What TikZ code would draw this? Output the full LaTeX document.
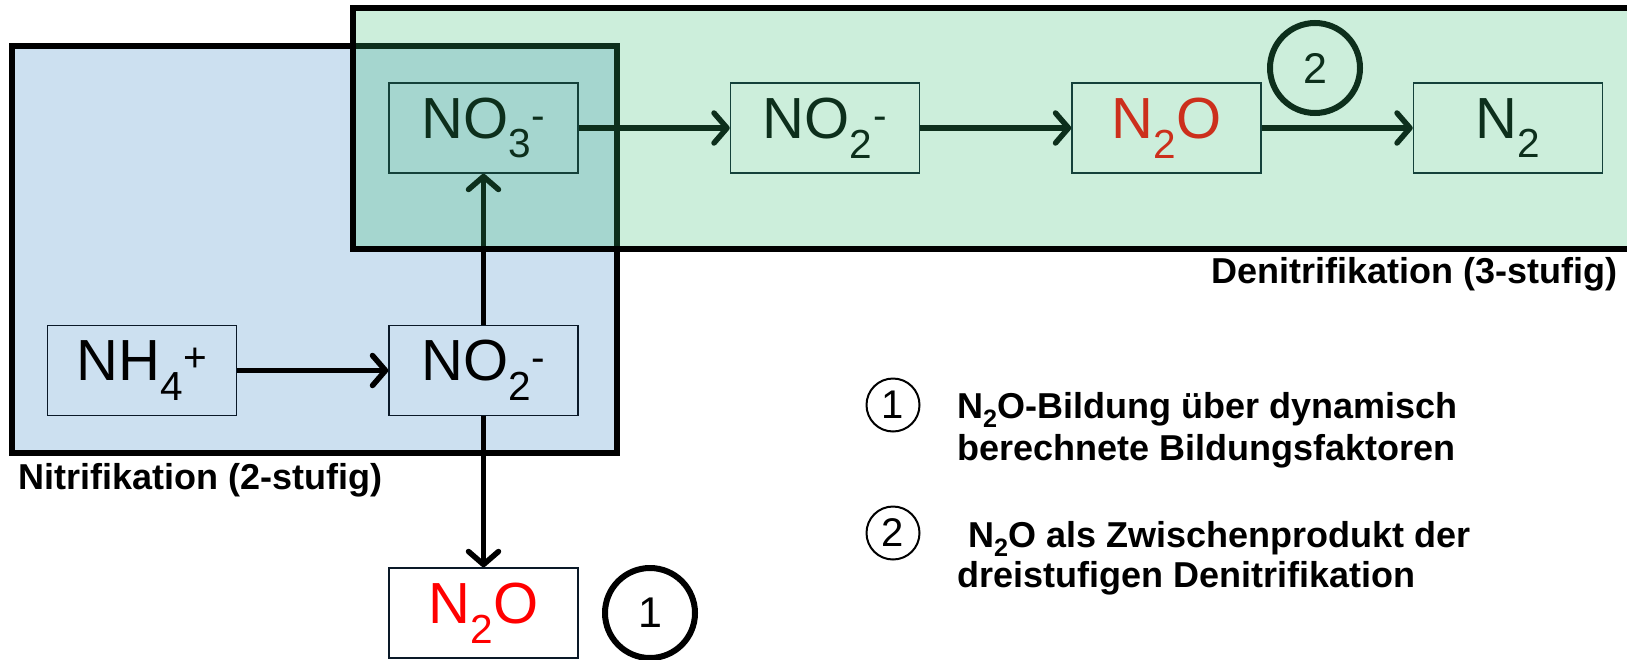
\documentclass[tikz,border=0pt]{standalone}
\usepackage{fontspec}
\setmainfont{Liberation Sans}
\usetikzlibrary{arrows.meta,positioning}
\definecolor{NitriClr}{RGB}{204,224,240}
\definecolor{DenitriClr}{RGB}{52,188,112}
\definecolor{GasClr}{RGB}{255,0,0}
\definecolor{EdgeClr}{RGB}{10,25,40}

\begin{document}
\begin{tikzpicture}[x=1pt,y=-1pt,
  spec/.style={draw=EdgeClr,line width=1.5pt,minimum width=189pt,minimum height=90pt,inner sep=0pt,font=\fontsize{58}{62}\selectfont},
  flow/.style={line width=5.5pt,-{Straight Barb[length=13pt,width=30pt,line cap=round,line join=round]}},
  stage/.style={line width=6pt,draw=black},
  tag/.style={inner sep=0pt,font=\fontsize{36}{42}\selectfont\bfseries},
  num/.style={circle,draw,line width=6pt,minimum size=90pt,inner sep=0pt,font=\fontsize{43}{50}\selectfont},
  numsmall/.style={circle,draw,line width=2pt,minimum size=53pt,inner sep=0pt,font=\fontsize{40}{45}\selectfont},
  node distance=151pt]

\useasboundingbox (0,0) rectangle (1627,659);

% Nitrifikation (blue stage)
\fill[NitriClr] (12,46) rectangle (617,453);
\draw[stage] (12,46) rectangle (617,453);

\node[spec] (no3) at (483.5,128) {NO\textsubscript{3}\textsuperscript{-}};
\node[spec,right=of no3] (no2a) {NO\textsubscript{2}\textsuperscript{-}};
\node[spec,right=of no2a,text=GasClr] (n2oa) {N\textsubscript{2}O};
\node[spec,right=of n2oa] (n2) {N\textsubscript{2}};
\node[spec,below=of no3] (no2b) {NO\textsubscript{2}\textsuperscript{-}};
\node[spec,left=of no2b] (nh4) {NH\textsubscript{4}\textsuperscript{+}};
\node[spec,below=of no2b,text=GasClr] (n2ob) {N\textsubscript{2}O};

\draw[flow] (nh4) -- (no2b);
\draw[flow] (no2b) -- (no3);
\draw[flow] (no2b) -- (n2ob);
\draw[flow] (no3) -- (no2a);
\draw[flow] (no2a) -- (n2oa);
\draw[flow] (n2oa) -- (n2);

\node[num] (c1) at (650,613) {1};
\node[num] (c2) at (1315,68) {2};

% Denitrifikation lies over the rest, see-through
\fill[DenitriClr,fill opacity=0.25] (353,8) rectangle (1660,249);
\draw[stage] (353,8) rectangle (1660,249);

\node[tag,anchor=base west] (nitri) at (18,489) {Nitrifikation (2-stufig)};
\node[tag,anchor=base east] (denitri) at (1618,283) {Denitrifikation (3-stufig)};

% legend
\node[numsmall] (k1) at (893,405) {1};
\node[numsmall] (k2) at (893,533) {2};
\node[tag,anchor=base west] (t1a) at (957,418) {N\textsubscript{2}O-Bildung über dynamisch};
\node[tag,anchor=base west] (t1b) at (957,460) {berechnete Bildungsfaktoren};
\node[tag,anchor=base west] (t2a) at (968,547) {N\textsubscript{2}O als Zwischenprodukt der};
\node[tag,anchor=base west] (t2b) at (957,587) {dreistufigen Denitrifikation};

\end{tikzpicture}
\end{document}
